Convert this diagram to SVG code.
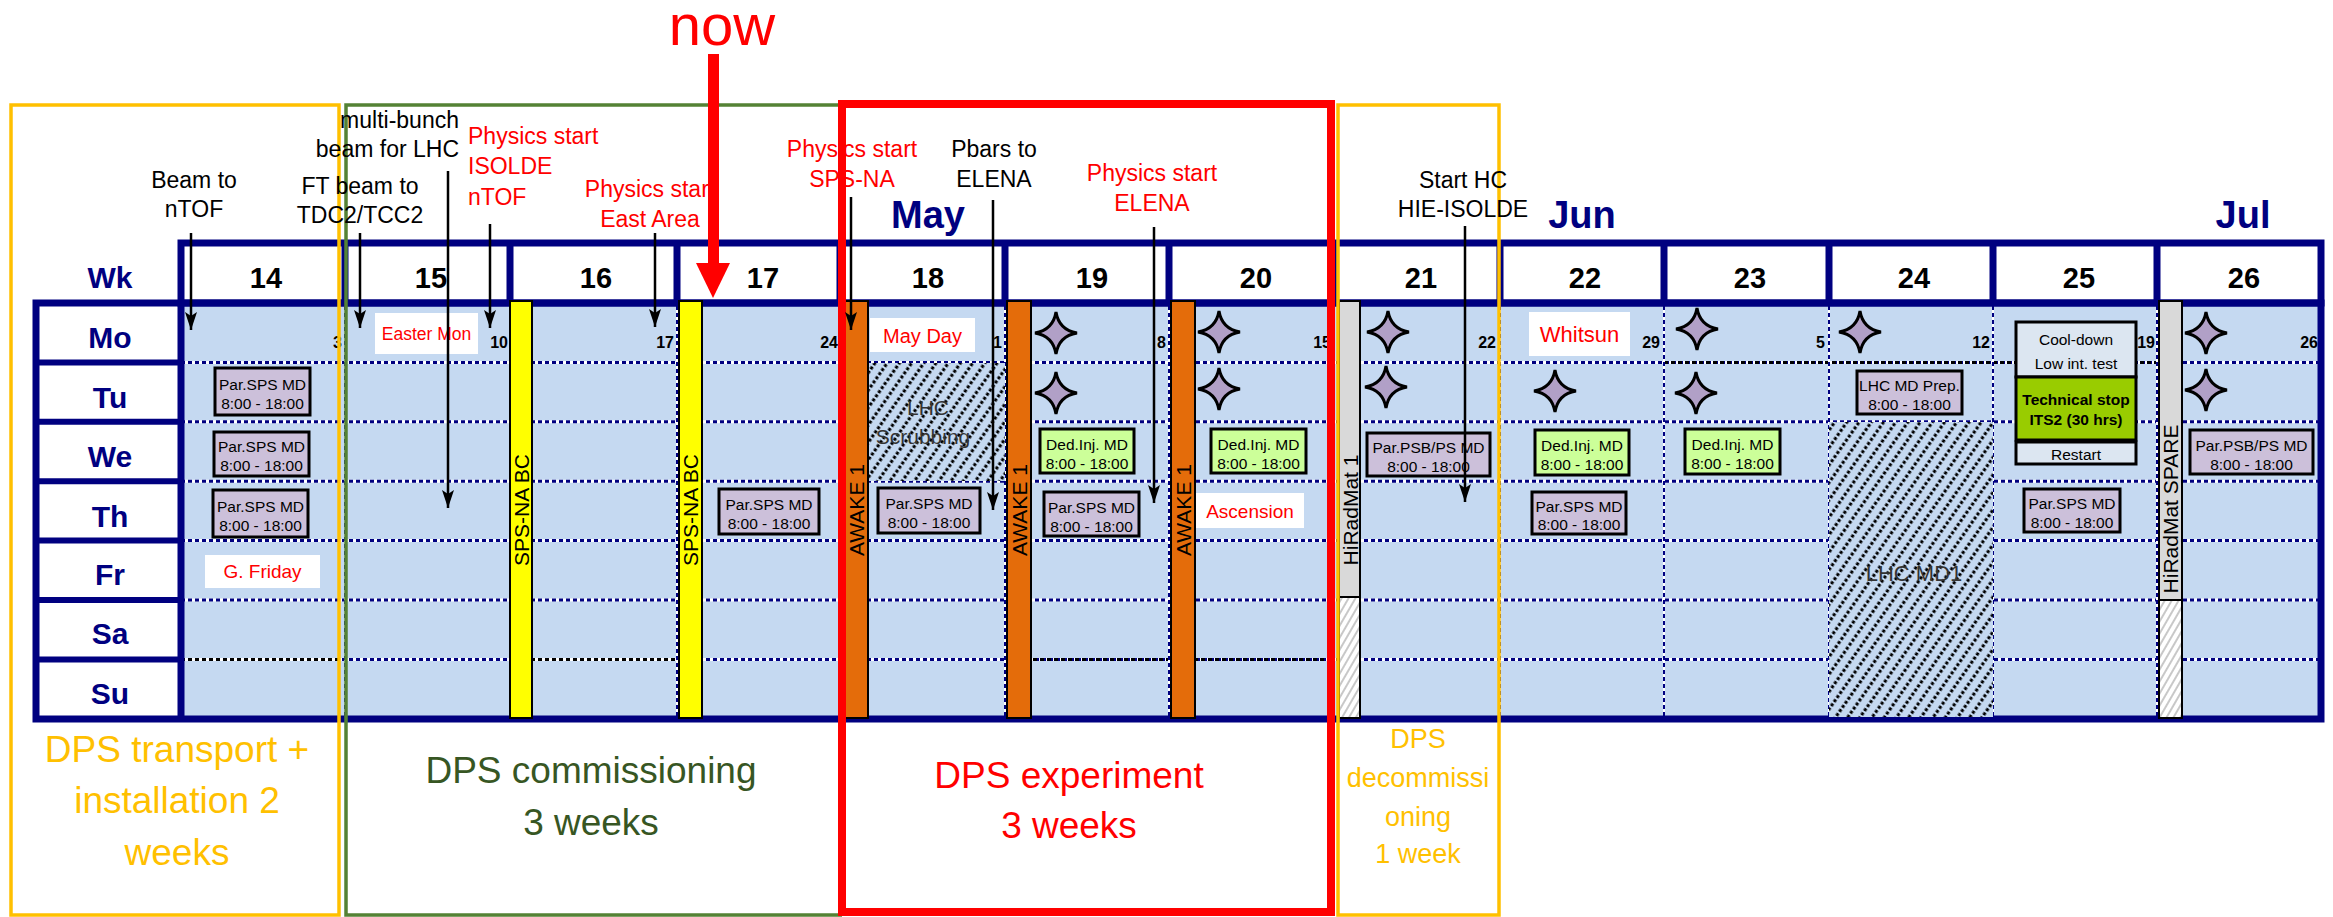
<svg xmlns="http://www.w3.org/2000/svg" width="2333" height="917" viewBox="0 0 2333 917">
<defs>
<style>
text{font-family:"Liberation Sans",Arial,sans-serif}
.wk{font-size:29px;font-weight:bold;fill:#000;text-anchor:middle}
.day{font-size:30px;font-weight:bold;fill:#000080;text-anchor:middle}
.dt{font-size:16px;font-weight:bold;fill:#000;text-anchor:end}
.mon{font-size:38px;font-weight:bold;fill:#000080;text-anchor:middle}
.ann{font-size:23px;text-anchor:middle}
.k{fill:#000}
.r{fill:#FF0000}
.bx{stroke:#000;stroke-width:3}
.lil{fill:#CCC0DA}
.grn{fill:#CCFF99}
.bt{font-size:15.5px;fill:#000;text-anchor:middle}
.hol{fill:#fff}
.ht{fill:#FF0000;text-anchor:middle}
.arr{stroke:#000;stroke-width:2.5;fill:none;marker-end:url(#ah)}
.rw{stroke:#fff;stroke-width:3;fill:none}
.rd{stroke:#000080;stroke-width:3;stroke-dasharray:4 3;fill:none}
.rb{stroke:#000;stroke-width:3;stroke-dasharray:4 3;fill:none}
.vw{stroke:#fff;stroke-width:2;fill:none}
.vd{stroke:#000080;stroke-width:2;stroke-dasharray:4 3;fill:none}
.nv{stroke:#000080;stroke-width:7;fill:none}
.bar{stroke:#000;stroke-width:2}
.bart{font-size:21px;fill:#000;text-anchor:middle}
.star{fill:#B1A0C7;stroke:#000;stroke-width:3;stroke-linejoin:miter}
.big{font-size:37px;text-anchor:middle}
.hatt{fill:#333;text-anchor:middle}
</style>
<marker id="ah" markerUnits="userSpaceOnUse" markerWidth="20" markerHeight="14" refX="18" refY="6" orient="auto"><path d="M0,0 L18,6 L0,12 L4,6 Z" fill="#000"/></marker>
<pattern id="hatch" patternUnits="userSpaceOnUse" width="10" height="10" patternTransform="rotate(35)"><rect width="10" height="10" fill="#C5D9F1"/><line x1="5" y1="0" x2="5" y2="10" stroke="#000" stroke-width="3" stroke-dasharray="3 2"/></pattern>
<pattern id="ghatch" patternUnits="userSpaceOnUse" width="6" height="6" patternTransform="rotate(30)"><rect width="6" height="6" fill="#fff"/><line x1="3" y1="0" x2="3" y2="6" stroke="#C8C8C8" stroke-width="2"/></pattern>
<path id="st" d="M0,-21 Q3,-3 21,0 Q3,3 0,21 Q-3,3 -21,0 Q-3,-3 0,-21 Z"/>
</defs>
<rect width="2333" height="917" fill="#fff"/>

<g id="grid">
<rect x="181" y="243" width="2140" height="60" fill="#fff"/>
<rect x="181" y="303" width="2140" height="416" fill="#C5D9F1"/>
<rect x="36" y="303" width="145" height="416" fill="#fff"/>
<path class="rw" d="M181,362.4H2321M181,421.8H2321M181,481.2H2321M181,540.6H2321M181,600H2321M181,659.4H2321"/>
<path class="rd" d="M181,362.4H2321M181,421.8H2321M181,481.2H2321M181,540.6H2321M181,600H2321M181,659.4H2321"/>
<path class="rb" d="M181,659.4H340M510,659.4H677M1005,659.4H1334M1664,362.4H2157"/>
<path class="vw" d="M345,306V716M510,306V716M677,306V716M840,306V716M1005,306V716M1169,306V716M1334,306V716M1500,306V716M1664,306V716M1829,306V716M1993,306V716M2157,306V716"/>
<path class="vd" d="M345,306V716M510,306V716M677,306V716M840,306V716M1005,306V716M1169,306V716M1334,306V716M1500,306V716M1664,306V716M1829,306V716M1993,306V716M2157,306V716"/>
<rect class="nv" x="181" y="243" width="2140" height="60"/>
<path class="nv" d="M345,243V303M510,243V303M677,243V303M840,243V303M1005,243V303M1169,243V303M1334,243V303M1500,243V303M1664,243V303M1829,243V303M1993,243V303M2157,243V303"/>
<rect class="nv" x="36" y="303" width="2285" height="416"/>
<path class="nv" d="M181,303V719"/>
<path stroke="#000080" stroke-width="6" d="M36,362.4H181M36,421.8H181M36,481.2H181M36,540.6H181M36,600H181M36,659.4H181"/>
</g>

<g id="labels">
<text class="day" x="110" y="288">Wk</text>
<text class="wk" x="266" y="288">14</text>
<text class="wk" x="431" y="288">15</text>
<text class="wk" x="596" y="288">16</text>
<text class="wk" x="763" y="288">17</text>
<text class="wk" x="928" y="288">18</text>
<text class="wk" x="1092" y="288">19</text>
<text class="wk" x="1256" y="288">20</text>
<text class="wk" x="1421" y="288">21</text>
<text class="wk" x="1585" y="288">22</text>
<text class="wk" x="1750" y="288">23</text>
<text class="wk" x="1914" y="288">24</text>
<text class="wk" x="2079" y="288">25</text>
<text class="wk" x="2244" y="288">26</text>
<text class="day" x="110" y="348">Mo</text>
<text class="day" x="110" y="408">Tu</text>
<text class="day" x="110" y="467">We</text>
<text class="day" x="110" y="527">Th</text>
<text class="day" x="110" y="585">Fr</text>
<text class="day" x="110" y="644">Sa</text>
<text class="day" x="110" y="704">Su</text>
<text class="mon" x="928" y="228">May</text>
<text class="mon" x="1582" y="228">Jun</text>
<text class="mon" x="2243" y="228">Jul</text>
<text class="dt" x="342" y="348">3</text>
<text class="dt" x="508" y="348">10</text>
<text class="dt" x="674" y="348">17</text>
<text class="dt" x="838" y="348">24</text>
<text class="dt" x="1002" y="348">1</text>
<text class="dt" x="1166" y="348">8</text>
<text class="dt" x="1331" y="348">15</text>
<text class="dt" x="1496" y="348">22</text>
<text class="dt" x="1660" y="348">29</text>
<text class="dt" x="1825" y="348">5</text>
<text class="dt" x="1990" y="348">12</text>
<text class="dt" x="2155" y="348">19</text>
<text class="dt" x="2318" y="348">26</text>
</g>

<g id="hatched">
<g id="lhc-scrubbing">
<rect x="868" y="363" width="137" height="118" fill="url(#hatch)"/>
<text class="hatt" x="928" y="415" font-size="21">LHC</text>
<text class="hatt" x="923" y="444" font-size="21">Scrubbing</text>
</g>
<g id="lhc-md1">
<rect x="1829" y="422" width="164" height="295" fill="url(#hatch)"/>
<text class="hatt" x="1914" y="581" font-size="22">LHC MD1</text>
</g>
</g>

<g id="bars">
<g id="spsna1"><rect class="bar" x="510" y="301" width="22" height="417" fill="#FFFF00"/><text class="bart" transform="translate(528.5,510) rotate(-90)">SPS-NA BC</text></g>
<g id="spsna2"><rect class="bar" x="679" y="301" width="23" height="417" fill="#FFFF00"/><text class="bart" transform="translate(698,510) rotate(-90)">SPS-NA BC</text></g>
<g id="awake1"><rect class="bar" x="845" y="301" width="23" height="417" fill="#E46C0A"/><text class="bart" transform="translate(864,510) rotate(-90)">AWAKE 1</text></g>
<g id="awake2"><rect class="bar" x="1007" y="301" width="24" height="417" fill="#E46C0A"/><text class="bart" transform="translate(1026.5,510) rotate(-90)">AWAKE 1</text></g>
<g id="awake3"><rect class="bar" x="1171" y="301" width="24" height="417" fill="#E46C0A"/><text class="bart" transform="translate(1190.5,510) rotate(-90)">AWAKE 1</text></g>
<g id="hiradmat1"><rect class="bar" x="1339" y="301" width="21" height="296" fill="#D9D9D9"/><rect class="bar" x="1339" y="597" width="21" height="121" fill="url(#ghatch)"/><text class="bart" font-size="23" transform="translate(1358,510) rotate(-90)">HiRadMat 1</text></g>
<g id="hiradmat-spare"><rect class="bar" x="2159" y="301" width="23" height="299" fill="#D9D9D9"/><rect class="bar" x="2159" y="600" width="23" height="118" fill="url(#ghatch)"/><text class="bart" transform="translate(2178,509) rotate(-90)">HiRadMat SPARE</text></g>
</g>

<g id="holidays">
<g id="easter-mon"><rect class="hol" x="375" y="313" width="103" height="41"/><text class="ht" x="426.5" y="340" font-size="17.5">Easter Mon</text></g>
<g id="g-friday"><rect class="hol" x="205" y="555" width="115" height="33"/><text class="ht" x="262.5" y="578" font-size="19">G. Friday</text></g>
<g id="may-day"><rect class="hol" x="870" y="318" width="105" height="34"/><text class="ht" x="922.5" y="343" font-size="20">May Day</text></g>
<g id="ascension"><rect class="hol" x="1196" y="493" width="108" height="35"/><text class="ht" x="1250" y="518" font-size="19">Ascension</text></g>
<g id="whitsun"><rect class="hol" x="1529" y="312" width="101" height="44"/><text class="ht" x="1579.5" y="342" font-size="22">Whitsun</text></g>
</g>

<g id="md-boxes">
<g id="md1"><rect class="bx lil" x="215" y="368" width="95" height="47"/><text class="bt" x="262.5" y="390">Par.SPS MD</text><text class="bt" x="262.5" y="409">8:00 - 18:00</text></g>
<g id="md2"><rect class="bx lil" x="214" y="432" width="95" height="44"/><text class="bt" x="261.5" y="452">Par.SPS MD</text><text class="bt" x="261.5" y="471">8:00 - 18:00</text></g>
<g id="md3"><rect class="bx lil" x="213" y="490" width="95" height="47"/><text class="bt" x="260.5" y="512">Par.SPS MD</text><text class="bt" x="260.5" y="531">8:00 - 18:00</text></g>
<g id="md4"><rect class="bx lil" x="719" y="489" width="100" height="45"/><text class="bt" x="769" y="510">Par.SPS MD</text><text class="bt" x="769" y="529">8:00 - 18:00</text></g>
<g id="md5"><rect class="bx lil" x="878" y="488" width="102" height="45"/><text class="bt" x="929" y="509">Par.SPS MD</text><text class="bt" x="929" y="528">8:00 - 18:00</text></g>
<g id="md6"><rect class="bx lil" x="1044" y="492" width="95" height="44"/><text class="bt" x="1091.5" y="513">Par.SPS MD</text><text class="bt" x="1091.5" y="532">8:00 - 18:00</text></g>
<g id="md7"><rect class="bx grn" x="1040" y="429" width="94" height="44"/><text class="bt" x="1087" y="450">Ded.Inj. MD</text><text class="bt" x="1087" y="469">8:00 - 18:00</text></g>
<g id="md8"><rect class="bx grn" x="1211" y="429" width="95" height="44"/><text class="bt" x="1258.5" y="450">Ded.Inj. MD</text><text class="bt" x="1258.5" y="469">8:00 - 18:00</text></g>
<g id="md9"><rect class="bx lil" x="1367" y="433" width="123" height="43"/><text class="bt" x="1428.5" y="453">Par.PSB/PS MD</text><text class="bt" x="1428.5" y="472">8:00 - 18:00</text></g>
<g id="md10"><rect class="bx grn" x="1535" y="430" width="94" height="45"/><text class="bt" x="1582" y="451">Ded.Inj. MD</text><text class="bt" x="1582" y="470">8:00 - 18:00</text></g>
<g id="md11"><rect class="bx grn" x="1685" y="429" width="95" height="45"/><text class="bt" x="1732.5" y="450">Ded.Inj. MD</text><text class="bt" x="1732.5" y="469">8:00 - 18:00</text></g>
<g id="md12"><rect class="bx lil" x="1532" y="492" width="94" height="42"/><text class="bt" x="1579" y="512">Par.SPS MD</text><text class="bt" x="1579" y="530">8:00 - 18:00</text></g>
<g id="md13"><rect class="bx lil" x="1857" y="371" width="105" height="43"/><text class="bt" x="1909.5" y="391">LHC MD Prep.</text><text class="bt" x="1909.5" y="410">8:00 - 18:00</text></g>
<g id="md14"><rect class="bx lil" x="2024" y="489" width="96" height="43"/><text class="bt" x="2072" y="509">Par.SPS MD</text><text class="bt" x="2072" y="528">8:00 - 18:00</text></g>
<g id="md15"><rect class="bx lil" x="2190" y="430" width="123" height="44"/><text class="bt" x="2251.5" y="451">Par.PSB/PS MD</text><text class="bt" x="2251.5" y="470">8:00 - 18:00</text></g>
<g id="cooldown"><rect class="bx" x="2016" y="322" width="120" height="55" fill="#DCE6F1"/><text class="bt" x="2076" y="345" font-size="17">Cool-down</text><text class="bt" x="2076" y="369" font-size="17">Low int. test</text></g>
<g id="techstop"><rect class="bx" x="2016" y="377" width="120" height="63" fill="#99CC00"/><text class="bt" x="2076" y="405" font-weight="bold" font-size="14">Technical stop</text><text class="bt" x="2076" y="425" font-weight="bold" font-size="14">ITS2 (30 hrs)</text></g>
<g id="restart"><rect class="bx" x="2016" y="442" width="120" height="22" fill="#DCE6F1"/><text class="bt" x="2076" y="460" font-size="17">Restart</text></g>
</g>

<g id="stars">
<use href="#st" class="star" x="1056" y="333"/>
<use href="#st" class="star" x="1056" y="393"/>
<use href="#st" class="star" x="1219" y="332"/>
<use href="#st" class="star" x="1219" y="389"/>
<use href="#st" class="star" x="1388" y="332"/>
<use href="#st" class="star" x="1386" y="387"/>
<use href="#st" class="star" x="1555" y="391"/>
<use href="#st" class="star" x="1697" y="329"/>
<use href="#st" class="star" x="1696" y="393"/>
<use href="#st" class="star" x="1860" y="332"/>
<use href="#st" class="star" x="2206" y="333"/>
<use href="#st" class="star" x="2206" y="390"/>
</g>

<g id="phases">
<g id="phase-transport"><rect x="11" y="105" width="328" height="810" fill="none" stroke="#FFC000" stroke-width="3.5"/>
<text class="big" x="177" y="762" fill="#FFC000">DPS transport +</text><text class="big" x="177" y="813" fill="#FFC000">installation 2</text><text class="big" x="177" y="865" fill="#FFC000">weeks</text></g>
<g id="phase-commissioning"><path d="M842,105H346V915H842" fill="none" stroke="#548235" stroke-width="3.5"/>
<text class="big" x="591" y="783" fill="#375623">DPS commissioning</text><text class="big" x="591" y="835" fill="#375623">3 weeks</text></g>
<g id="phase-decommissioning"><rect x="1338" y="105" width="161" height="810" fill="none" stroke="#FFC000" stroke-width="3.5"/>
<text x="1418" y="748" font-size="27" fill="#FFC000" text-anchor="middle">DPS</text><text x="1418" y="787" font-size="27" fill="#FFC000" text-anchor="middle">decommissi</text><text x="1418" y="826" font-size="27" fill="#FFC000" text-anchor="middle">oning</text><text x="1418" y="863" font-size="27" fill="#FFC000" text-anchor="middle">1 week</text></g>
<g id="phase-experiment"><rect x="842" y="104" width="489" height="808" fill="none" stroke="#FF0000" stroke-width="8"/>
<text class="big" x="1069" y="788" fill="#FF0000">DPS experiment</text><text class="big" x="1069" y="838" fill="#FF0000">3 weeks</text></g>
</g>

<g id="annotations">
<g id="a-beam-ntof"><text class="ann k" x="194" y="188">Beam to</text><text class="ann k" x="194" y="217">nTOF</text></g>
<g id="a-ft-beam"><text class="ann k" x="360" y="194">FT beam to</text><text class="ann k" x="360" y="223">TDC2/TCC2</text></g>
<g id="a-multibunch"><text class="ann k" x="459" y="128" style="text-anchor:end">multi-bunch</text><text class="ann k" x="459" y="157" style="text-anchor:end">beam for LHC</text></g>
<g id="a-isolde"><text class="ann r" x="468" y="144" style="text-anchor:start">Physics start</text><text class="ann r" x="468" y="174" style="text-anchor:start">ISOLDE</text><text class="ann r" x="468" y="205" style="text-anchor:start">nTOF</text></g>
<g id="a-east"><text class="ann r" x="650" y="197">Physics start</text><text class="ann r" x="650" y="227">East Area</text></g>
<g id="a-spsna"><text class="ann r" x="852" y="157">Physics start</text><text class="ann r" x="852" y="187">SPS-NA</text></g>
<g id="a-pbars"><text class="ann k" x="994" y="157">Pbars to</text><text class="ann k" x="994" y="187">ELENA</text></g>
<g id="a-elena"><text class="ann r" x="1152" y="181">Physics start</text><text class="ann r" x="1152" y="211">ELENA</text></g>
<g id="a-hie"><text class="ann k" x="1463" y="188">Start HC</text><text class="ann k" x="1463" y="217">HIE-ISOLDE</text></g>
<g id="now"><text x="722" y="45" font-size="58" fill="#FF0000" text-anchor="middle">now</text></g>
</g>

<g id="connectors">
<line class="arr" x1="191" y1="233" x2="191" y2="330"/>
<line class="arr" x1="360" y1="233" x2="360" y2="328"/>
<line class="arr" x1="448" y1="171" x2="448" y2="508"/>
<line class="arr" x1="490" y1="224" x2="490" y2="328"/>
<line class="arr" x1="655" y1="233" x2="655" y2="327"/>
<line class="arr" x1="851" y1="197" x2="851" y2="330"/>
<line class="arr" x1="993" y1="200" x2="993" y2="510"/>
<line class="arr" x1="1154" y1="227" x2="1154" y2="503"/>
<line class="arr" x1="1465" y1="226" x2="1465" y2="502"/>
<g id="now-arrow"><rect x="708" y="54" width="11" height="211" fill="#FF0000"/><polygon points="696,263 730,263 713,298" fill="#FF0000"/></g>
</g>
</svg>
